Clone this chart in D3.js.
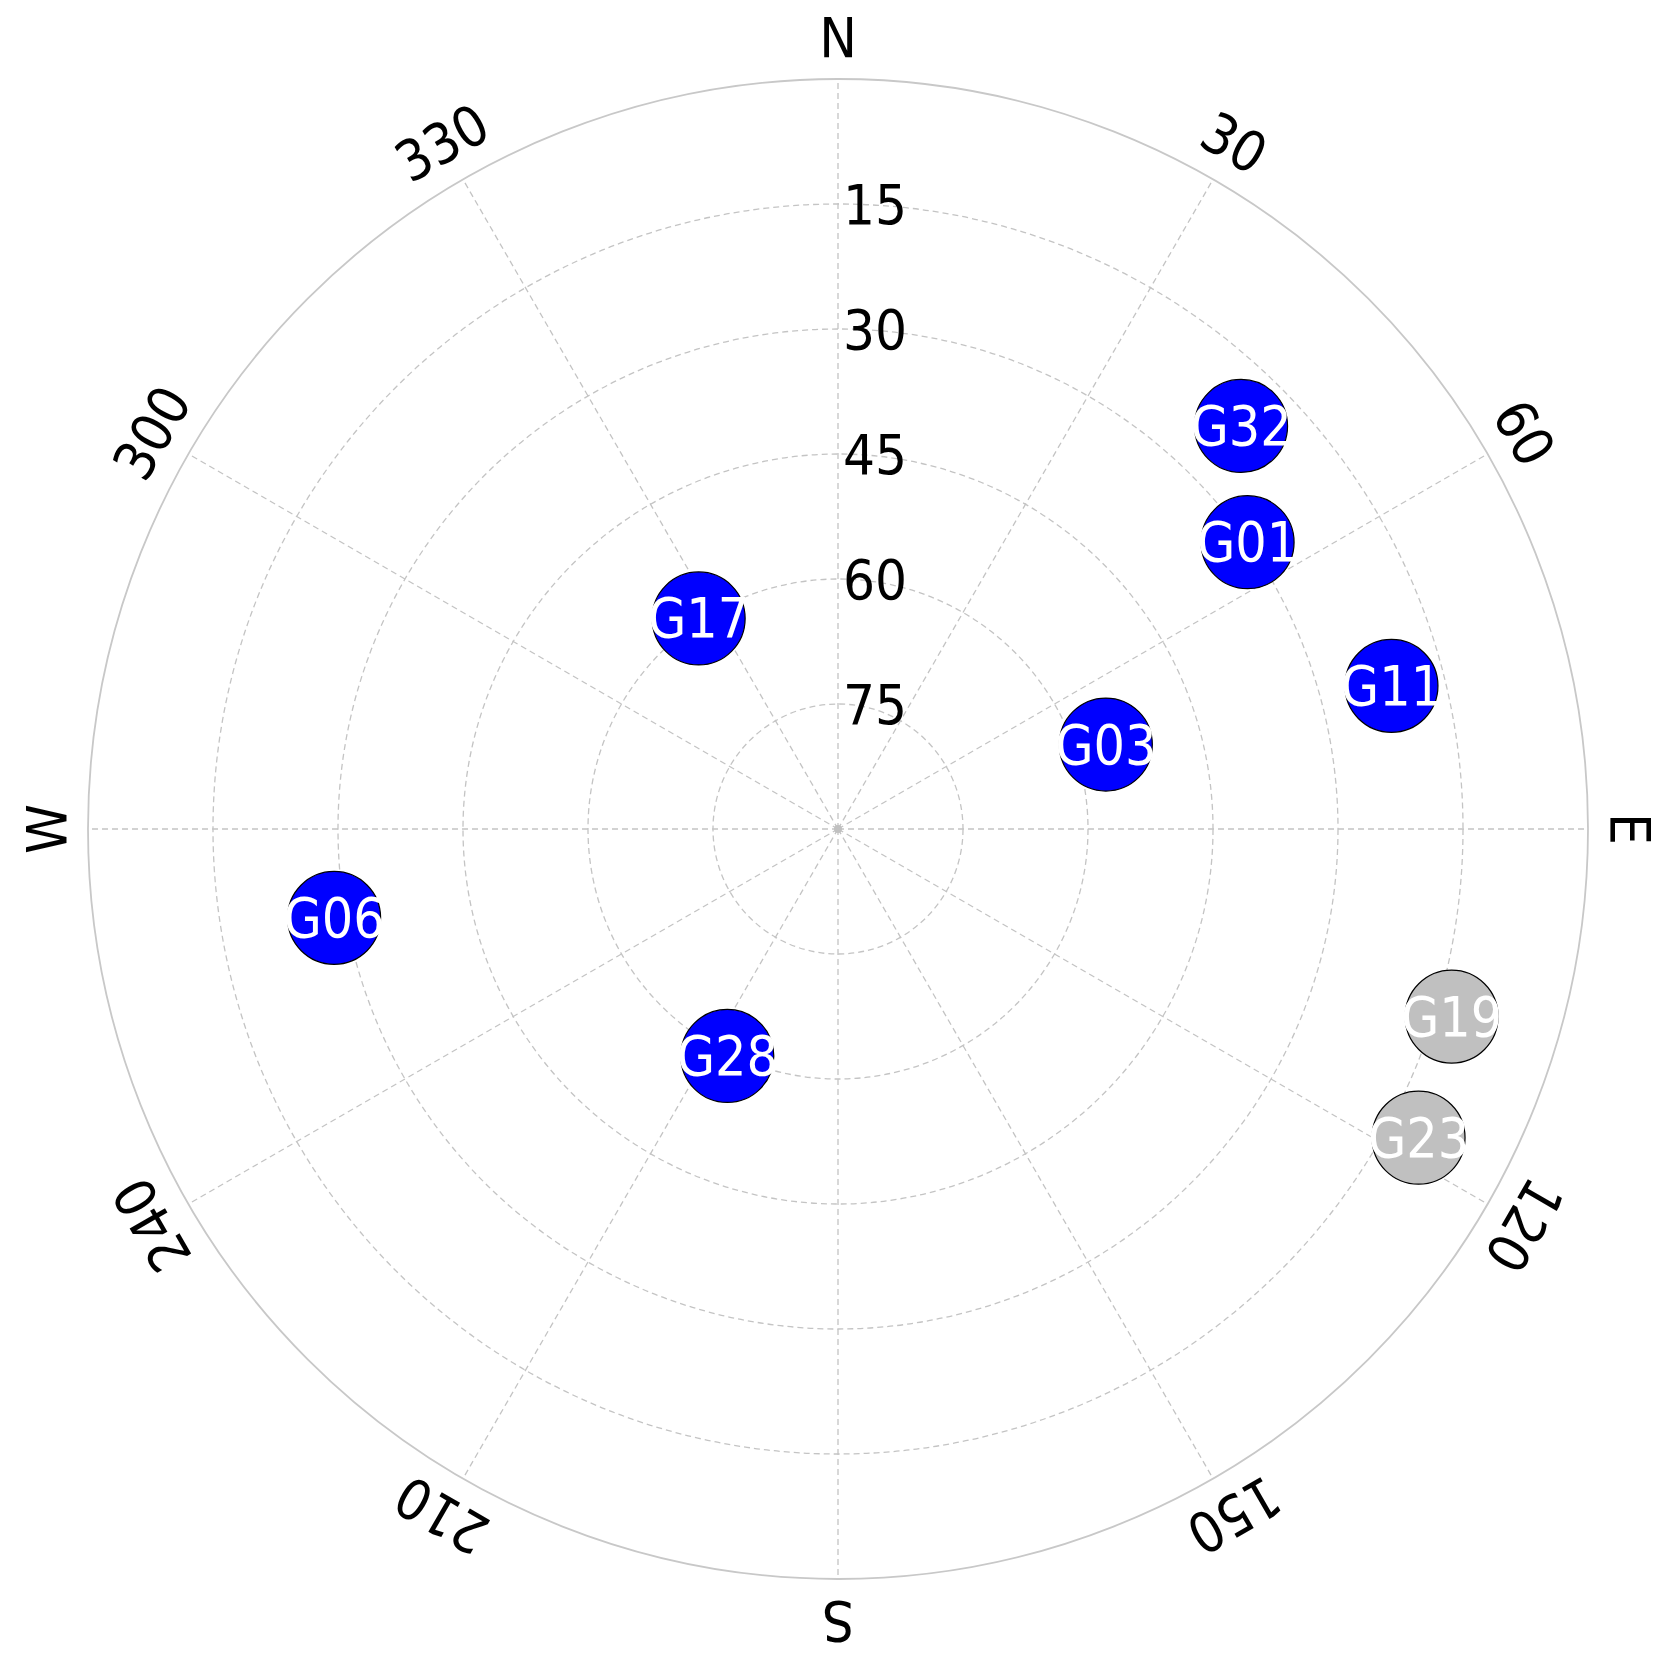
<!DOCTYPE html>
<html>
<head>
<meta charset="utf-8">
<script src="https://cdn.jsdelivr.net/npm/d3@7"></script>
<style>
  body { margin: 0; background: #fff; }
  text { font-family: "DejaVu Sans", Verdana, sans-serif; }
</style>
</head>
<body>
<div id="chart"></div>
<script>
// satellite sky plot data (azimuth deg clockwise from N, elevation deg)
const sats = ["G32", "G01", "G11", "G03", "G17", "G06", "G28", "G19", "G23"];
const azimuths = [45, 55, 75.5, 72.5, 326.5, 260, 206, 107, 118];
const elevations = [21.6, 30, 21.4, 56.3, 59.7, 28.6, 59.7, 13, 11.1];
const tracked = [true, true, true, true, true, true, true, false, false];

const elevTicks = [15, 30, 45, 60, 75];
const azTicks = [0, 30, 60, 90, 120, 150, 180, 210, 240, 270, 300, 330];
const azLabels = ["N", "30", "60", "E", "120", "150", "S", "210", "240", "W", "300", "330"];

const width = 1666;
const height = 1664;
const cx = 838, cy = 829;
const R = 750;

const r = d3.scaleLinear().domain([90, 0]).range([0, R]);
const ang = d3.scaleLinear().domain([0, 360]).range([0, 2 * Math.PI]);

const px = (az, rad) => cx + rad * Math.sin(ang(az));
const py = (az, rad) => cy - rad * Math.cos(ang(az));

const svg = d3.select("#chart")
  .append("svg")
  .attr("width", width)
  .attr("height", height);

// outer horizon circle
svg.append("circle")
  .attr("cx", cx).attr("cy", cy).attr("r", r(0))
  .attr("fill", "none")
  .attr("stroke", "#c8c8c8")
  .attr("stroke-width", 1.8);

// elevation rings
svg.selectAll(".ring")
  .data(elevTicks)
  .enter()
  .append("circle")
  .attr("class", "ring")
  .attr("cx", cx).attr("cy", cy)
  .attr("r", d => r(d))
  .attr("fill", "none")
  .attr("stroke", "#c4c4c4")
  .attr("stroke-width", 1.3)
  .attr("stroke-dasharray", "6,4");

// radial spokes
svg.selectAll(".spoke")
  .data(azTicks)
  .enter()
  .append("line")
  .attr("class", "spoke")
  .attr("x1", cx).attr("y1", cy)
  .attr("x2", d => px(d, r(0)))
  .attr("y2", d => py(d, r(0)))
  .attr("stroke", "#c4c4c4")
  .attr("stroke-width", 1.3)
  .attr("stroke-dasharray", "6,4");

svg.append("circle")
  .attr("cx", cx).attr("cy", cy).attr("r", 4)
  .attr("fill", "#c0c0c0");

// elevation labels
svg.selectAll(".elab")
  .data(elevTicks)
  .enter()
  .append("text")
  .attr("x", cx + 5)
  .attr("y", d => cy - r(d))
  .attr("dominant-baseline", "central")
  .attr("font-size", "56px")
  .attr("font-stretch", "condensed")
  .attr("fill", "#000")
  .text(d => d);

// azimuth labels, rotated along the rim
const L = R + 42;
svg.selectAll(".alab")
  .data(azTicks)
  .enter()
  .append("text")
  .attr("transform", d => `translate(${px(d, L)},${py(d, L)}) rotate(${d})`)
  .attr("text-anchor", "middle")
  .attr("dominant-baseline", "central")
  .attr("font-size", "56px")
  .attr("font-stretch", "condensed")
  .attr("fill", "#000")
  .text((d, i) => azLabels[i]);

// satellites
const satData = sats.map((s, i) => ({
  name: s, az: azimuths[i], el: elevations[i], ok: tracked[i]
}));

const g = svg.selectAll(".sat")
  .data(satData)
  .enter()
  .append("g")
  .attr("transform", d => `translate(${px(d.az, r(d.el))},${py(d.az, r(d.el))})`);

g.append("circle")
  .attr("r", 46.5)
  .attr("fill", d => d.ok ? "#0000ff" : "#c0c0c0")
  .attr("stroke", "#000")
  .attr("stroke-width", 1.2);

g.append("text")
  .attr("text-anchor", "middle")
  .attr("dominant-baseline", "central")
  .attr("font-size", "55px")
  .attr("font-stretch", "condensed")
  .attr("fill", "#fff")
  .text(d => d.name);
</script>
</body>
</html>
